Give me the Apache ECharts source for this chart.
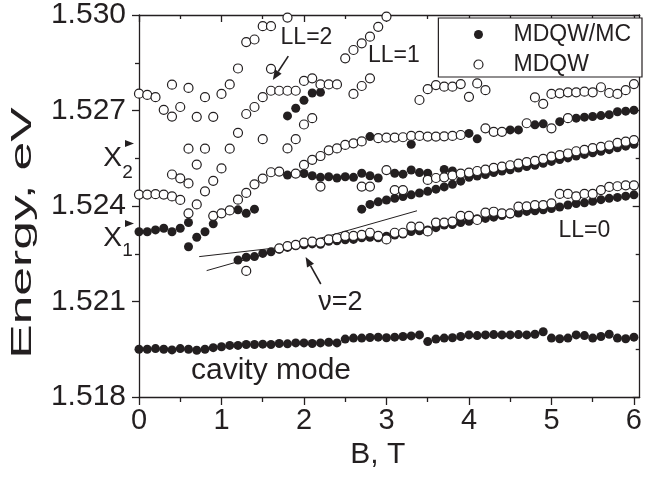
<!DOCTYPE html>
<html><head><meta charset="utf-8">
<script src="https://cdn.jsdelivr.net/npm/echarts@6/dist/echarts.min.js"></script>
<style>html,body{margin:0;padding:0;background:#fff}#c{width:645px;height:482px}</style>
</head><body><div id="c"></div>
<script>
// ---------------- data (B in T, energy in eV) ----------------
const xMajorTicks = [0, 1, 2, 3, 4, 5, 6];
const xMinorTicks = [0.5, 1.5, 2.5, 3.5, 4.5, 5.5];
const xMax = 6.07;
const yMin = 1.518, yMax = 1.530, yStep = 0.003;

// MDQW/MC (filled circles)
const cavityMode = [[0.0,1.51950],[0.1,1.51950],[0.2,1.51952],[0.3,1.51950],[0.4,1.51948],[0.5,1.51952],[0.6,1.51950],[0.7,1.51947],[0.8,1.51950],[0.9,1.51955],[1.0,1.51958],[1.1,1.51962],[1.2,1.51962],[1.3,1.51965],[1.4,1.51965],[1.5,1.51966],[1.6,1.51965],[1.7,1.51968],[1.8,1.51967],[1.9,1.51970],[2.0,1.51970],[2.1,1.51968],[2.2,1.51970],[2.3,1.51972],[2.4,1.51970],[2.5,1.51982],[2.6,1.51985],[2.7,1.51985],[2.8,1.51987],[2.9,1.51988],[3.0,1.51986],[3.1,1.51988],[3.2,1.51990],[3.3,1.51992],[3.4,1.51995],[3.5,1.51974],[3.6,1.51982],[3.7,1.51985],[3.8,1.51986],[3.9,1.51990],[4.0,1.51995],[4.1,1.51993],[4.2,1.51995],[4.3,1.51996],[4.4,1.51995],[4.5,1.51995],[4.6,1.51996],[4.7,1.51995],[4.8,1.51997],[4.9,1.52005],[5.0,1.51985],[5.1,1.51983],[5.2,1.51985],[5.3,1.51995],[5.4,1.51993],[5.5,1.51985],[5.6,1.51990],[5.7,1.51997],[5.8,1.51985],[5.9,1.51983],[6.0,1.51988]];
const filledX1 = [[0.0,1.52319],[0.1,1.52319],[0.2,1.52325],[0.3,1.52330],[0.4,1.52319],[0.5,1.52330],[0.6,1.52348],[0.6,1.52272],[0.7,1.52302],[0.8,1.52319],[0.9,1.52344]];
const filledX1Mid = [[1.2,1.52388],[1.3,1.52377],[1.4,1.52390]];
const filledLL2 = [[1.8,1.52683],[1.9,1.52707],[2.0,1.52732],[2.1,1.52755],[2.2,1.52757]];
const filledFlat = [[1.8,1.52497],[2.0,1.52502],[2.1,1.52495],[2.2,1.52490],[2.3,1.52492],[2.4,1.52488],[2.5,1.52492],[2.6,1.52490],[2.7,1.52503],[2.8,1.52495],[2.9,1.52488],[3.1,1.52503],[3.2,1.52500],[3.3,1.52513],[3.4,1.52505],[3.5,1.52503],[3.7,1.52515],[3.8,1.52510]];
const filledUpper = [[2.8,1.52618],[3.3,1.52594],[4.0,1.52628],[4.1,1.52611],[4.5,1.52639],[4.6,1.52639],[4.8,1.52655],[4.9,1.52658],[5.1,1.52665],[5.3,1.52676],[5.4,1.52679],[5.5,1.52681],[5.6,1.52684],[5.7,1.52687],[5.8,1.52696],[5.9,1.52698],[6.0,1.52701]];
const filledMiddle = [[2.7,1.52390],[2.8,1.52405],[2.9,1.52413],[3.0,1.52419],[3.1,1.52424],[3.2,1.52430],[3.3,1.52435],[3.4,1.52441],[3.5,1.52446],[3.6,1.52453],[3.7,1.52460],[3.8,1.52468],[3.9,1.52478],[4.0,1.52490],[4.1,1.52494],[4.2,1.52499],[4.3,1.52505],[4.4,1.52510],[4.5,1.52514],[4.6,1.52519],[4.7,1.52524],[4.8,1.52528],[4.9,1.52534],[5.0,1.52540],[5.1,1.52546],[5.2,1.52551],[5.3,1.52557],[5.4,1.52562],[5.5,1.52567],[5.6,1.52572],[5.7,1.52577],[5.8,1.52583],[5.9,1.52588],[6.0,1.52594]];
const filledLL0 = [[1.2,1.52230],[1.3,1.52239],[1.4,1.52241],[1.5,1.52251],[1.6,1.52256],[1.7,1.52264],[1.8,1.52270],[1.9,1.52275],[2.0,1.52278],[2.1,1.52281],[2.2,1.52280],[2.3,1.52289],[2.4,1.52291],[2.5,1.52294],[2.6,1.52295],[2.7,1.52300],[2.8,1.52302],[2.9,1.52300],[3.0,1.52305],[3.1,1.52309],[3.2,1.52312],[3.3,1.52320],[3.4,1.52322],[3.5,1.52325],[3.6,1.52332],[3.7,1.52340],[3.8,1.52342],[3.9,1.52348],[4.0,1.52352],[4.1,1.52360],[4.2,1.52361],[4.3,1.52365],[4.4,1.52370],[4.5,1.52375],[4.6,1.52378],[4.7,1.52383],[4.8,1.52385],[4.9,1.52388],[5.0,1.52392],[5.1,1.52397],[5.2,1.52403],[5.3,1.52408],[5.4,1.52410],[5.5,1.52415],[5.6,1.52420],[5.7,1.52424],[5.8,1.52427],[5.9,1.52431],[6.0,1.52435]];

// MDQW (open circles)
const openX2 = [[0.0,1.52436],[0.1,1.52436],[0.2,1.52437],[0.3,1.52436],[0.4,1.52430],[0.5,1.52419]];
const openFan = [[0.0,1.52753],[0.1,1.52749],[0.2,1.52742],[0.3,1.52702],[0.4,1.52681],[0.4,1.52781],[0.5,1.52711],[0.6,1.52771],[0.7,1.52680],[0.8,1.52742],[0.9,1.52680],[1.0,1.52752],[1.1,1.52782],[1.2,1.52832],[1.3,1.52915],[1.4,1.52923],[1.5,1.52965],[1.6,1.52965],[1.8,1.52992],[1.3,1.52689],[1.4,1.52711],[1.5,1.52742],[1.6,1.52762],[1.7,1.52762],[1.8,1.52762],[1.9,1.52762],[2.0,1.52793],[2.1,1.52801],[2.2,1.52782],[2.3,1.52782],[2.4,1.52782],[1.6,1.52831]];
const openRise = [[0.4,1.52499],[0.5,1.52487],[0.6,1.52471],[0.6,1.52580],[0.7,1.52530],[0.8,1.52580],[0.6,1.52377],[0.7,1.52405],[0.8,1.52446],[0.9,1.52479],[1.0,1.52518],[1.1,1.52580],[1.2,1.52630],[1.5,1.52610],[1.8,1.52581],[1.9,1.52610],[2.0,1.52656],[2.1,1.52676]];
const openX1Rise = [[0.9,1.52369],[1.0,1.52377],[1.1,1.52386],[1.2,1.52420],[1.3,1.52441],[1.4,1.52468],[1.5,1.52486],[1.6,1.52506],[1.7,1.52508],[1.9,1.52502]];
const openChain = [[2.0,1.52529],[2.1,1.52545],[2.2,1.52557],[2.3,1.52575],[2.4,1.52581],[2.5,1.52592],[2.6,1.52597],[2.7,1.52603],[2.9,1.52613],[3.0,1.52615],[3.1,1.52615],[3.2,1.52616],[3.3,1.52620],[3.4,1.52620],[3.5,1.52618],[3.6,1.52618],[3.7,1.52619],[3.8,1.52620],[3.9,1.52623],[4.2,1.52644],[4.3,1.52633],[4.4,1.52633],[4.7,1.52660],[5.0,1.52644],[5.2,1.52676]];
const openLowFlat = [[2.2,1.52461],[2.7,1.52461],[2.8,1.52461],[3.0,1.52513]];
const openMiddle = [[3.1,1.52450],[3.2,1.52450],[3.5,1.52482],[3.6,1.52488],[3.7,1.52490],[3.8,1.52496],[3.9,1.52502],[4.0,1.52505],[4.1,1.52510],[4.2,1.52514],[4.3,1.52520],[4.4,1.52524],[4.5,1.52528],[4.6,1.52533],[4.7,1.52538],[4.8,1.52542],[4.9,1.52548],[5.0,1.52555],[5.1,1.52560],[5.2,1.52565],[5.3,1.52572],[5.4,1.52576],[5.5,1.52582],[5.6,1.52586],[5.7,1.52590],[5.8,1.52598],[5.9,1.52602],[6.0,1.52607]];
const openLL0 = [[1.3,1.52196],[1.7,1.52267],[1.8,1.52274],[1.9,1.52278],[2.0,1.52285],[2.1,1.52288],[2.2,1.52285],[2.3,1.52295],[2.4,1.52299],[2.5,1.52306],[2.6,1.52306],[2.7,1.52309],[2.8,1.52316],[2.9,1.52306],[3.0,1.52295],[3.1,1.52316],[3.2,1.52316],[3.3,1.52335],[3.4,1.52335],[3.5,1.52320],[3.6,1.52348],[3.7,1.52348],[3.8,1.52351],[3.9,1.52369],[4.0,1.52369],[4.1,1.52356],[4.2,1.52379],[4.3,1.52382],[4.4,1.52377],[4.5,1.52377],[4.6,1.52398],[4.7,1.52399],[4.8,1.52403],[4.9,1.52403],[5.0,1.52408],[5.1,1.52438],[5.2,1.52438],[5.3,1.52430],[5.4,1.52438],[5.5,1.52438],[5.6,1.52450],[5.7,1.52460],[5.8,1.52462],[5.9,1.52465],[6.0,1.52465]];
const openTop = [[2.6,1.52752],[2.7,1.52777],[2.8,1.52801],[3.4,1.52733],[3.5,1.52767],[3.6,1.52780],[3.7,1.52775],[3.8,1.52775],[3.9,1.52783],[4.0,1.52743],[4.1,1.52785],[4.2,1.52764],[4.8,1.52741],[4.9,1.52721],[5.0,1.52752],[5.1,1.52754],[5.2,1.52757],[5.3,1.52757],[5.4,1.52759],[5.5,1.52757],[5.6,1.52773],[5.7,1.52755],[5.8,1.52752],[5.9,1.52764],[6.0,1.52783]];
const openLL1 = [[2.5,1.52864],[2.6,1.52890],[2.7,1.52911],[2.8,1.52932],[2.9,1.52963],[3.0,1.52995]];

// guide lines near nu = 2
const tangentShallow = [[0.73,1.52241],[2.5,1.52293]];
const tangentSteep = [[0.82,1.52197],[3.37,1.52385]];

// ---------------- styling ----------------
const FONT = '"Liberation Sans", Arial, Helvetica, sans-serif';
const INK = '#231f20';
const LW = 1.3;

const filled = [].concat(cavityMode, filledX1, filledX1Mid, filledLL2, filledFlat, filledUpper, filledMiddle, filledLL0);
const open = [].concat(openX2, openFan, openRise, openX1Rise, openChain, openLowFlat, openMiddle, openLL0, openTop, openLL1);

function xAxisDef(pos, ticks, len, inside, main) {
  return {
    type: 'value', position: pos, min: 0, max: xMax,
    axisLine: { show: main, onZero: false, lineStyle: { color: INK, width: LW } },
    axisTick: { show: true, customValues: ticks, length: len, inside: inside, lineStyle: { color: INK, width: LW } },
    axisLabel: (pos === 'bottom' && main) ? { show: true, customValues: xMajorTicks, fontSize: 29, fontFamily: FONT, color: INK, margin: 9 } : { show: false },
    splitLine: { show: false }
  };
}
const xAxes = [
  xAxisDef('bottom', xMajorTicks, 8, false, true),
  xAxisDef('bottom', xMinorTicks, 5, false, false),
  xAxisDef('top', xMajorTicks, 7, true, true),
  xAxisDef('top', xMinorTicks, 4, true, false)
];
xAxes[0].name = 'B, T';
xAxes[0].nameLocation = 'middle';
xAxes[0].nameGap = 34;
xAxes[0].nameTextStyle = { fontSize: 30, fontFamily: FONT, color: INK, padding: [0, 23, 0, 0] };

function yAxisDef(pos, inside, labels) {
  return {
    type: 'value', position: pos, min: yMin, max: yMax, interval: yStep,
    axisLine: { show: true, onZero: false, lineStyle: { color: INK, width: LW } },
    axisTick: { show: true, length: 7, inside: inside, lineStyle: { color: INK, width: LW } },
    minorTick: { show: true, splitNumber: 2, length: 4, lineStyle: { color: INK, width: LW } },
    axisLabel: labels ? { show: true, fontSize: 30, fontFamily: FONT, color: INK, margin: 13, formatter: v => v.toFixed(3) } : { show: false },
    splitLine: { show: false }, minorSplitLine: { show: false }
  };
}
const yAxes = [yAxisDef('left', false, true), yAxisDef('right', true, false)];

const option = {
  animation: false,
  backgroundColor: '#fff',
  grid: { left: 139, right: 3, top: 15, bottom: 85, containLabel: false },
  xAxis: xAxes,
  yAxis: yAxes,
  legend: {
    data: [
      { name: 'MDQW/MC', itemStyle: { color: INK, borderWidth: 0, opacity: 1 } },
      { name: 'MDQW', itemStyle: { color: '#fff', borderColor: INK, borderWidth: 1.2, opacity: 1 } }
    ],
    orient: 'vertical', right: 3, top: 18,
    padding: [5, 11, 1, 35], itemGap: 7, itemWidth: 60, itemHeight: 9, icon: 'circle',
    borderColor: INK, borderWidth: 1.2, backgroundColor: '#fff', selectedMode: false,
    textStyle: { fontSize: 23, fontFamily: FONT, color: INK }
  },
  series: [
    { type: 'line', data: tangentShallow, symbol: 'none', silent: true, lineStyle: { color: INK, width: 1 }, z: 1 },
    { type: 'line', data: tangentSteep, symbol: 'none', silent: true, lineStyle: { color: INK, width: 1 }, z: 1 },
    { name: 'MDQW/MC', type: 'scatter', symbol: 'circle', symbolSize: 9, data: filled, itemStyle: { color: INK, opacity: 1 }, z: 2 },
    { name: 'MDQW', type: 'scatter', symbol: 'circle', symbolSize: 9, data: open, itemStyle: { color: '#fff', borderColor: INK, borderWidth: 1.2, opacity: 1 }, z: 3 }
  ]
};

const chart = echarts.init(document.getElementById('c'));
chart.setOption(option);

// ---------------- annotations (placed in data space) ----------------
const notes = [
  { text: 'LL=2', at: [2.03, 1.52928], size: 23 },
  { text: 'LL=1', at: [3.09, 1.52872], size: 23 },
  { text: 'LL=0', at: [5.40, 1.52322], size: 23 },
  { text: 'ν=2', at: [2.44, 1.52098], size: 27 },
  { text: 'cavity mode', at: [1.60, 1.51882], size: 30 }
];
const arrows = [
  { tail: [1.81, 1.52871], head: [1.622, 1.52796] },
  { tail: [2.204, 1.52155], head: [2.02, 1.52240] }
];
const excitons = [
  { main: 'X', sub: '2', E: 1.52596, subDy: 29 },
  { main: 'X', sub: '1', E: 1.52345, subDy: 27.5 }
];
const yTitle = { text: 'Energy, eV', E: 1.52315, dx: -116, size: 30, stretch: 1.72 };

const P = (b, e) => chart.convertToPixel({ xAxisIndex: 0, yAxisIndex: 0 }, [b, e]);
const g = [];
notes.forEach(n => {
  const p = P(n.at[0], n.at[1]);
  g.push({ type: 'text', x: p[0], y: p[1], z: 10, silent: true,
    style: { text: n.text, fontSize: n.size, fontFamily: FONT, fill: INK, align: 'center', verticalAlign: 'middle' } });
});
function head(tip, tail, len, half) {
  const dx = tip[0] - tail[0], dy = tip[1] - tail[1], L = Math.hypot(dx, dy);
  const ux = dx / L, uy = dy / L, bx = tip[0] - ux * len, by = tip[1] - uy * len;
  return { base: [bx, by], pts: [tip, [bx - uy * half, by + ux * half], [bx + uy * half, by - ux * half]] };
}
arrows.forEach(a => {
  const t = P(a.tail[0], a.tail[1]), h = P(a.head[0], a.head[1]);
  const hd = head(h, t, 10, 4);
  g.push({ type: 'line', z: 10, silent: true, shape: { x1: t[0], y1: t[1], x2: hd.base[0], y2: hd.base[1] }, style: { stroke: INK, lineWidth: 1.6 } });
  g.push({ type: 'polygon', z: 10, silent: true, shape: { points: hd.pts }, style: { fill: INK } });
});
excitons.forEach(x => {
  const p = P(0, x.E);
  const x0 = p[0], y = p[1];
  g.push({ type: 'polygon', z: 10, silent: true, shape: { points: [[x0 - 5, y], [x0 - 14, y - 3.5], [x0 - 14, y + 3.5]] }, style: { fill: INK } });
  g.push({ type: 'text', x: x0 - 26.5, y: y + 14.5, z: 10, silent: true, style: { text: x.main, fontSize: 28, fontFamily: FONT, fill: INK, align: 'center', verticalAlign: 'middle' } });
  g.push({ type: 'text', x: x0 - 11.5, y: y + x.subDy, z: 10, silent: true, style: { text: x.sub, fontSize: 19, fontFamily: FONT, fill: INK, align: 'center', verticalAlign: 'middle' } });
});
(function () {
  const p = P(0, yTitle.E);
  g.push({ type: 'text', x: p[0] + yTitle.dx, y: p[1], rotation: Math.PI / 2, scaleX: yTitle.stretch, scaleY: 1, z: 10, silent: true,
    style: { text: yTitle.text, fontSize: yTitle.size, fontFamily: FONT, fill: INK, align: 'center', verticalAlign: 'middle' } });
})();
chart.setOption({ graphic: g });
</script></body></html>
